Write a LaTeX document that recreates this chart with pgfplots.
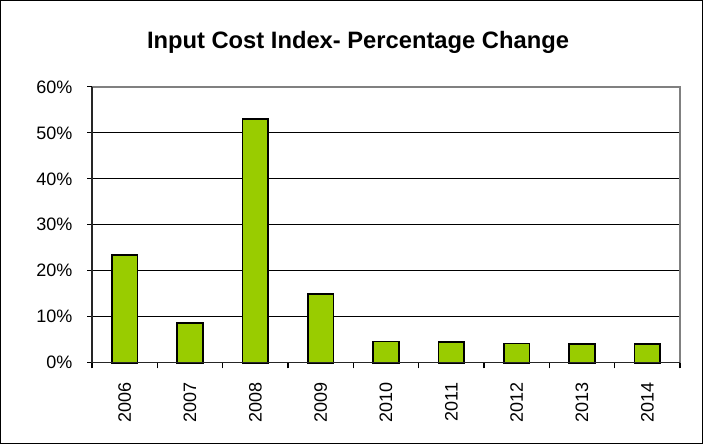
\documentclass[border=0pt]{standalone}
\usepackage{fontspec}
\setmainfont{Liberation Sans}
\usepackage{pgfplots}
\pgfplotsset{compat=1.18}
\definecolor{barg}{HTML}{99CC00}
\begin{document}
\begin{tikzpicture}
\draw[black, line width=0.75pt] (0.375pt,0.375pt) rectangle (526.875pt,332.625pt);
\node[font=\bfseries\fontsize{17.8}{20}\selectfont, anchor=base] at (268.5pt,297pt) {Input Cost Index- Percentage Change};
\begin{axis}[at={(69pt,61pt)}, anchor=south west, scale only axis,
  width=441pt, height=206.8pt,
  xmin=0.5, xmax=9.5, ymin=0, ymax=60,
  xtick={1,2,3,4,5,6,7,8,9},
  xticklabels={2006,2007,2008,2009,2010,2011,2012,2013,2014},
  major x tick style={draw=none},
  extra x ticks={0.5,1.5,2.5,3.5,4.5,5.5,6.5,7.5,8.5,9.5},
  extra x tick labels={},
  extra x tick style={major x tick style={draw=black, line width=0.8pt}, major tick length=4.2pt, tick align=outside, xmajorgrids=false},
  xticklabel style={rotate=90, anchor=east, inner sep=0pt, xshift=-11.25pt, font=\fontsize{13.5}{15}\selectfont},
  ytick={0,10,20,30,40,50,60},
  yticklabel={\pgfmathparse{int(\tick)}\pgfmathresult\%},
  yticklabel style={anchor=east, inner sep=0pt, xshift=-10.8pt, font=\fontsize{13.5}{15}\selectfont},
  ytick pos=left, xtick pos=left,
  y tick style={draw=black, line width=0.8pt},
  tick align=outside, major tick length=3.75pt,
  ymajorgrids, grid style={black, line width=0.6pt},
  axis line style={draw=none},
  clip=false,
]
\addplot[ybar, bar width=19.3pt, fill=barg, draw=black, line width=1.3pt]
  coordinates {(1,23.4) (2,8.7) (3,53.0) (4,14.95) (5,4.6) (6,4.5) (7,4.2) (8,4.1) (9,4.1)};
\draw[gray, line width=1.1pt] (rel axis cs:0,1) -- (rel axis cs:1,1) -- (rel axis cs:1,0);
\draw[black!85, line width=1.1pt] (rel axis cs:0,1) -- (rel axis cs:0,0) -- (rel axis cs:1,0);
\end{axis}
\end{tikzpicture}
\end{document}
